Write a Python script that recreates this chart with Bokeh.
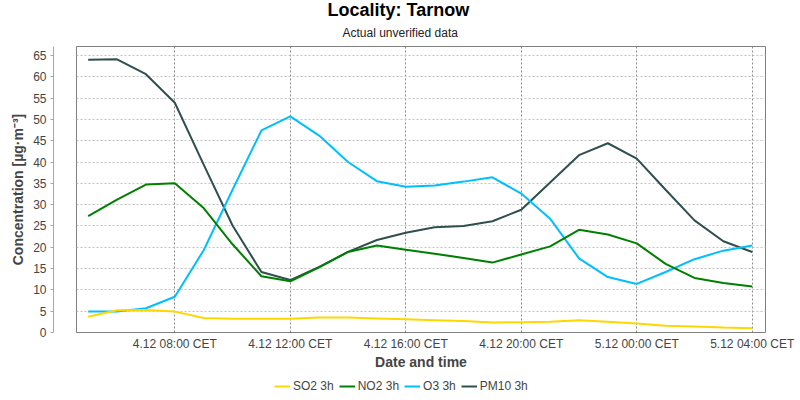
from bokeh.plotting import figure
from bokeh.layouts import column
from bokeh.models import (Title, Legend, LegendItem, FixedTicker, Range1d, LinearAxis)
from bokeh.embed import file_html
from bokeh.resources import INLINE

# hours since 4.12 00:00 CET (hourly values 4.12 05:00 .. 5.12 04:00)
hours = [5, 6, 7, 8, 9, 10, 11, 12, 13, 14, 15, 16, 17, 18, 19, 20, 21, 22, 23, 24, 25, 26, 27, 28]
so2 = [3.7, 5.2, 5.3, 4.9, 3.4, 3.2, 3.2, 3.25, 3.5, 3.5, 3.3, 3.1, 2.9, 2.7, 2.35, 2.4, 2.5, 2.85, 2.5, 2.1, 1.6, 1.4, 1.15, 1.0]
no2 = [27.3, 31.2, 34.7, 35.0, 29.2, 20.7, 13.2, 12.0, 15.3, 18.9, 20.4, 19.4, 18.5, 17.5, 16.4, 18.3, 20.2, 24.1, 23.0, 20.9, 16.1, 12.8, 11.6, 10.8]
o3 = [4.9, 4.9, 5.7, 8.4, 19.3, 33.5, 47.4, 50.7, 46.2, 40.0, 35.5, 34.2, 34.5, 35.4, 36.4, 32.6, 26.7, 17.4, 13.0, 11.4, 14.2, 17.2, 19.2, 20.4]
pm10 = [64.0, 64.1, 60.6, 53.9, 39.4, 25.1, 14.2, 12.3, 15.4, 18.9, 21.7, 23.4, 24.7, 25.0, 26.1, 28.8, 35.2, 41.6, 44.4, 40.8, 33.5, 26.3, 21.4, 18.9]

series_names = ["SO2 3h", "NO2 3h", "O3 3h", "PM10 3h"]
series_colors = ["#FFD700", "#008000", "#00BFFF", "#2F4F4F"]

tick_hours = [8, 12, 16, 20, 24, 28]
tick_labels = ["4.12 08:00 CET", "4.12 12:00 CET", "4.12 16:00 CET",
               "4.12 20:00 CET", "5.12 00:00 CET", "5.12 04:00 CET"]
y_ticks = [0, 5, 10, 15, 20, 25, 30, 35, 40, 45, 50, 55, 60, 65]

FONT = "Liberation Sans"
TXT = "#444444"

p = figure(width=800, height=372, output_backend="svg", toolbar_location=None,
           x_range=Range1d(4.595, 28.46), y_range=Range1d(0, 67.1),
           min_border_left=76, min_border_right=35, min_border_top=44,
           min_border_bottom=39, background_fill_color="white",
           border_fill_color="white")
p.outline_line_color = "#808080"
p.outline_line_width = 1

# grids
p.xgrid.ticker = FixedTicker(ticks=tick_hours)
p.xgrid.grid_line_color = "#8a8a8a"
p.xgrid.grid_line_dash = "2 2"
p.ygrid.ticker = FixedTicker(ticks=y_ticks)
p.ygrid.grid_line_color = "#c4c4c4"
p.ygrid.grid_line_dash = "2 2"

# x axis
xa = p.xaxis[0]
xa.ticker = FixedTicker(ticks=tick_hours)
xa.major_label_overrides = dict(zip(tick_hours, tick_labels))
xa.axis_line_color = None
xa.major_tick_line_color = None
xa.minor_tick_line_color = None
xa.major_tick_out = 0
xa.major_tick_in = 0
xa.major_label_standoff = 4
xa.major_label_text_font = FONT
xa.major_label_text_font_size = "12px"
xa.major_label_text_color = TXT
xa.axis_label = "Date and time"
xa.axis_label_text_font = FONT
xa.axis_label_text_font_size = "14px"
xa.axis_label_text_font_style = "bold"
xa.axis_label_text_color = TXT
xa.axis_label_standoff = 0

# invisible spacer axis next to the plot box (gap between box and y axis)
spacer = p.yaxis[0]
spacer.ticker = FixedTicker(ticks=[0])
spacer.major_label_overrides = {0: ""}
spacer.axis_line_color = None
spacer.major_tick_line_color = None
spacer.minor_tick_line_color = None
spacer.major_tick_out = 23
spacer.major_tick_in = 0
spacer.minor_tick_out = 0
spacer.minor_tick_in = 0
spacer.major_label_standoff = 0

# visible y axis
ya = LinearAxis(ticker=FixedTicker(ticks=y_ticks))
ya.axis_line_color = "#a8a8a8"
ya.major_tick_line_color = "#a8a8a8"
ya.minor_tick_line_color = None
ya.major_tick_out = 3
ya.major_tick_in = 0
ya.major_label_standoff = 4
ya.major_label_text_font = FONT
ya.major_label_text_font_size = "12px"
ya.major_label_text_color = TXT
ya.axis_label = "Concentration [µg·m⁻³]"
ya.axis_label_text_font = FONT
ya.axis_label_text_font_size = "14px"
ya.axis_label_text_font_style = "bold"
ya.axis_label_text_color = TXT
ya.axis_label_standoff = 4
p.add_layout(ya, "left")

# lines (drawn in reverse so SO2 is on top)
values = [so2, no2, o3, pm10]
for i in [3, 2, 1, 0]:
    p.line(hours, values[i], line_color=series_colors[i], line_width=2)

# titles (left aligned with offsets so that they are centred on the page)
p.add_layout(Title(text="Actual unverified data", align="left", offset=266,
                   text_font=FONT, text_font_size="12px", text_font_style="normal",
                   text_color="#222222", standoff=14), "above")
p.add_layout(Title(text="Locality: Tarnow", align="left", offset=251,
                   text_font=FONT, text_font_size="18px", text_font_style="bold",
                   text_color="black", standoff=-6), "above")

# legend strip under the chart (its lines lie outside its ranges, only the legend shows)
lg = figure(width=800, height=28, output_backend="svg", toolbar_location=None,
            x_axis_location=None, y_axis_location=None, min_border=0,
            x_range=Range1d(0, 1), y_range=Range1d(0, 1),
            background_fill_color="white", border_fill_color="white")
lg.grid.visible = False
lg.outline_line_color = None
items = []
for name, color, vals in zip(series_names, series_colors, values):
    r = lg.line(hours, vals, line_color=color, line_width=2)
    items.append(LegendItem(label=name, renderers=[r]))
legend = Legend(items=items, orientation="horizontal", location=(198, 7),
                border_line_color=None, background_fill_alpha=0,
                label_text_font=FONT, label_text_font_size="12px",
                label_text_color=TXT, glyph_width=16, glyph_height=12,
                label_standoff=3, spacing=5, padding=0, margin=0,
                label_height=12)
lg.add_layout(legend, "center")

layout = column(p, lg, spacing=0)
open("out.html", "w").write(file_html(layout, INLINE))
